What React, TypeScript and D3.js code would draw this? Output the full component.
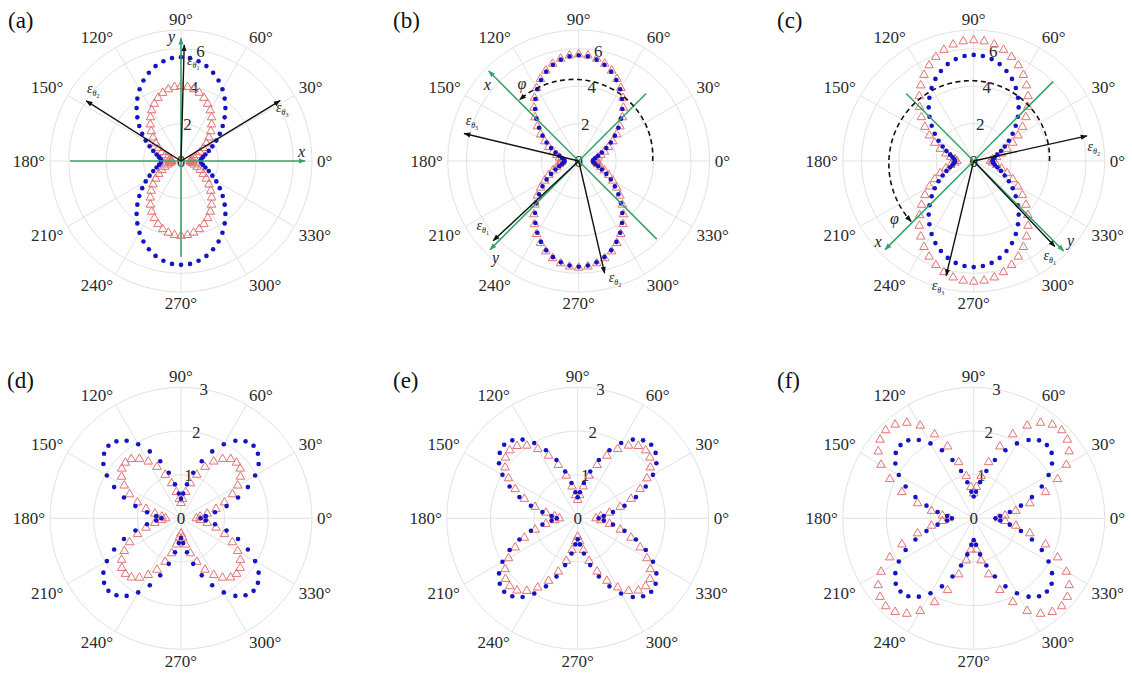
import React from "react";
import * as d3 from "d3";

// sampling angles (deg); strain is pi-periodic so each value is drawn at theta and theta+180
const thetaDeg = [0, 5, 10, 15, 20, 25, 30, 35, 40, 45, 50, 55, 60, 65, 70, 75, 80, 85,
  90, 95, 100, 105, 110, 115, 120, 125, 130, 135, 140, 145, 150, 155, 160, 165, 170, 175];

// (a)
const blueA = [1.05, 1.08, 1.19, 1.35, 1.58, 1.85, 2.18, 2.53, 2.91, 3.30, 3.69, 4.07, 4.43, 4.75, 5.02, 5.25, 5.41, 5.52,
  5.55, 5.52, 5.41, 5.25, 5.02, 4.75, 4.43, 4.07, 3.69, 3.30, 2.91, 2.53, 2.18, 1.85, 1.58, 1.35, 1.19, 1.08];
const redA = [0.50, 0.53, 0.61, 0.73, 0.91, 1.13, 1.38, 1.65, 1.95, 2.25, 2.55, 2.85, 3.13, 3.37, 3.59, 3.77, 3.89, 3.97,
  4.00, 3.97, 3.89, 3.77, 3.59, 3.37, 3.13, 2.85, 2.55, 2.25, 1.95, 1.65, 1.38, 1.13, 0.91, 0.73, 0.61, 0.53];
// (b)
const blueB = [0.75, 0.79, 0.90, 1.08, 1.32, 1.63, 1.98, 2.36, 2.77, 3.20, 3.63, 4.04, 4.43, 4.77, 5.08, 5.32, 5.50, 5.61,
  5.65, 5.61, 5.50, 5.32, 5.08, 4.77, 4.43, 4.04, 3.63, 3.20, 2.77, 2.36, 1.98, 1.63, 1.32, 1.08, 0.90, 0.79];
const redB = [0.90, 0.94, 1.04, 1.22, 1.46, 1.76, 2.10, 2.48, 2.88, 3.30, 3.72, 4.12, 4.50, 4.84, 5.14, 5.38, 5.55, 5.66,
  5.70, 5.66, 5.55, 5.38, 5.14, 4.84, 4.50, 4.12, 3.72, 3.30, 2.88, 2.48, 2.10, 1.76, 1.46, 1.22, 1.04, 0.94];
// (c)
const blueC = [1.00, 1.04, 1.14, 1.31, 1.55, 1.83, 2.17, 2.54, 2.93, 3.34, 3.74, 4.13, 4.50, 4.84, 5.12, 5.36, 5.53, 5.63,
  5.67, 5.63, 5.53, 5.36, 5.12, 4.84, 4.50, 4.13, 3.74, 3.34, 2.93, 2.54, 2.17, 1.83, 1.55, 1.31, 1.14, 1.04];
const redC = [0.90, 1.01, 1.24, 1.54, 1.90, 2.30, 2.73, 3.18, 3.64, 4.09, 4.52, 4.93, 5.31, 5.64, 5.92, 6.15, 6.32, 6.42,
  6.45, 6.42, 6.32, 6.15, 5.92, 5.64, 5.31, 4.93, 4.52, 4.09, 3.64, 3.18, 2.73, 2.30, 1.90, 1.54, 1.24, 1.01];
// (d)
const blueD = [0.45, 0.57, 0.79, 1.08, 1.39, 1.69, 1.96, 2.17, 2.30, 2.35, 2.30, 2.17, 1.96, 1.69, 1.39, 1.08, 0.79, 0.57,
  0.45, 0.57, 0.79, 1.08, 1.39, 1.69, 1.96, 2.17, 2.30, 2.35, 2.30, 2.17, 1.96, 1.69, 1.39, 1.08, 0.79, 0.57];
const redD = [0.35, 0.44, 0.61, 0.83, 1.06, 1.30, 1.50, 1.66, 1.77, 1.80, 1.77, 1.66, 1.50, 1.30, 1.06, 0.83, 0.61, 0.44,
  0.35, 0.44, 0.61, 0.83, 1.06, 1.30, 1.50, 1.66, 1.77, 1.80, 1.77, 1.66, 1.50, 1.30, 1.06, 0.83, 0.61, 0.44];
// (e)
const blueE = [0.48, 0.60, 0.82, 1.11, 1.42, 1.72, 1.99, 2.20, 2.33, 2.38, 2.33, 2.20, 1.99, 1.72, 1.42, 1.11, 0.82, 0.60,
  0.48, 0.60, 0.82, 1.11, 1.42, 1.72, 1.99, 2.20, 2.33, 2.38, 2.33, 2.20, 1.99, 1.72, 1.42, 1.11, 0.82, 0.60];
const redE = [0.42, 0.53, 0.74, 1.01, 1.30, 1.58, 1.83, 2.03, 2.16, 2.20, 2.16, 2.03, 1.83, 1.58, 1.30, 1.01, 0.74, 0.53,
  0.42, 0.53, 0.74, 1.01, 1.30, 1.58, 1.83, 2.03, 2.16, 2.20, 2.16, 2.03, 1.83, 1.58, 1.30, 1.01, 0.74, 0.53];
// (f)
const blueF = [0.50, 0.61, 0.84, 1.12, 1.42, 1.72, 1.98, 2.19, 2.33, 2.37, 2.33, 2.19, 1.98, 1.72, 1.42, 1.12, 0.84, 0.61,
  0.50, 0.61, 0.84, 1.12, 1.42, 1.72, 1.98, 2.19, 2.33, 2.37, 2.33, 2.19, 1.98, 1.72, 1.42, 1.12, 0.84, 0.61];
const redF = [0.57, 0.72, 0.98, 1.33, 1.75, 2.12, 2.45, 2.67, 2.80, 2.85, 2.80, 2.67, 2.45, 2.12, 1.75, 1.33, 0.98, 0.72,
  0.57, 0.72, 0.98, 1.33, 1.75, 2.12, 2.45, 2.67, 2.80, 2.85, 2.80, 2.67, 2.45, 2.12, 1.75, 1.33, 0.98, 0.72];

const panelNames = ["(a)", "(b)", "(c)", "(d)", "(e)", "(f)"];
const thetaTicks = [0, 30, 60, 90, 120, 150, 180, 210, 240, 270, 300, 330];
const rTicksTop = [0, 2, 4, 6];
const rTicksBottom = [0, 1, 2, 3];
const rMaxTop = 7;
const rMaxBottom = 3;

// specimen axes (green): angle, length in r units; first and third ray carry the arrow head
const axisAngA = [0, 180, 90, 270];
const axisLenA = [6.63, 5.93, 6.56, 5.12];
const axisAngB = [135, 315, 225, 45];
const axisLenB = [6.8, 5.9, 6.7, 5.1];
const axisAngC = [225, 45, 315, 135];
const axisLenC = [6.7, 6.0, 6.8, 5.1];
const axisHead = [true, false, true, false];
const axisNames = ["x", "y"];
const axisLblAngA = [4, 94.4];
const axisLblRA = [6.46, 6.62];
const axisLblAngB = [140.2, 229.4];
const axisLblRB = [6.35, 6.83];
const axisLblAngC = [220.2, 320.4];
const axisLblRC = [6.7, 6.71];

// gauge directions (black arrows) eps_theta1..3
const gaugeNames = ["1", "2", "3"];
const gaugeAngA = [88.4, 147.6, 31.3];
const gaugeLenA = [6.2, 6.0, 6.2];
const gaugeLblAngA = [83.6, 141.8, 27];
const gaugeLblRA = [5.27, 6.05, 6.0];
const gaugeAngB = [223, 283, 166.5];
const gaugeLenB = [6.25, 6.15, 6.3];
const gaugeLblAngB = [214.4, 286.4, 160.4];
const gaugeLblRB = [6.29, 6.63, 6.13];
const gaugeAngC = [313.5, 12.5, 256.5];
const gaugeLenC = [6.3, 6.2, 6.3];
const gaugeLblAngC = [307.6, 5.8, 253.8];
const gaugeLblRC = [6.55, 6.38, 7.07];

// rotation angle phi (dashed arc): start, end, radius at start, radius at end
const phiArcB = [0, 134, 3.95, 4.55];
const phiArcC = [0, 224, 4.05, 4.65];
const phiLblB = [126.4, 5.11];
const phiLblC = [216.2, 5.25];

const W = 1132;
const H = 673;
const R = 131;
const centerX = [181, 578.7, 973.7, 181, 577.7, 973.7];
const centerY = [161, 161, 161, 518.3, 518.3, 518.3];
const nameX = [8, 393, 777, 7, 393, 777];
const nameY = [28, 28, 28, 388, 388, 388];

const tf = { fontFamily: "'Liberation Serif', 'Times New Roman', Times" };
const green = "#35a56a";
const gridCol = "#e2e2e2";
const labelCol = "#2a2a2a";

const blueSeries = [blueA, blueB, blueC, blueD, blueE, blueF];
const redSeries = [redA, redB, redC, redD, redE, redF];
const axAngs = [axisAngA, axisAngB, axisAngC];
const axLens = [axisLenA, axisLenB, axisLenC];
const axLblAngs = [axisLblAngA, axisLblAngB, axisLblAngC];
const axLblRs = [axisLblRA, axisLblRB, axisLblRC];
const gAngs = [gaugeAngA, gaugeAngB, gaugeAngC];
const gLens = [gaugeLenA, gaugeLenB, gaugeLenC];
const gLblAngs = [gaugeLblAngA, gaugeLblAngB, gaugeLblAngC];
const gLblRs = [gaugeLblRA, gaugeLblRB, gaugeLblRC];

const tri = d3.symbol().type(d3.symbolTriangle).size(32)() as string;

const Panel = ({ i }: { i: number }) => {
  const top = i < 3;
  const rMax = top ? rMaxTop : rMaxBottom;
  const ticks = top ? rTicksTop : rTicksBottom;
  const r = d3.scaleLinear().domain([0, rMax]).range([0, R]);
  const xy = (deg: number, v: number): [number, number] => {
    const a = (deg * Math.PI) / 180;
    return [r(v) * Math.cos(a), -r(v) * Math.sin(a)];
  };
  const rings = ticks.filter((t) => t > 0);
  if (!rings.includes(rMax)) rings.push(rMax);
  const pts = (vals: number[]) =>
    vals.flatMap((v, k) => [xy(thetaDeg[k], v), xy(thetaDeg[k] + 180, v)]);

  let phi: React.ReactNode = null;
  if (i === 1 || i === 2) {
    const [a0, a1, r0, r1] = i === 1 ? phiArcB : phiArcC;
    const steps = d3.range(a0, a1 + 0.01, 2);
    const path = d3.line()(steps.map((a) => xy(a, r0 + ((r1 - r0) * (a - a0)) / (a1 - a0)))) as string;
    const [la, lr] = i === 1 ? phiLblB : phiLblC;
    const [px, py] = xy(la, lr);
    phi = (
      <g>
        <path d={path} fill="none" stroke="#111" strokeWidth={1.6} strokeDasharray="5,3.5" markerEnd="url(#ah-black)" />
        <text x={px} y={py} dy="0.3em" textAnchor="middle" fontStyle="italic" fontSize={16} fill="#222" style={tf}>{"\u03C6"}</text>
      </g>
    );
  }

  return (
    <g>
      <text x={nameX[i]} y={nameY[i]} fontSize={23} fill="#111" style={tf}>{panelNames[i]}</text>
      <g transform={`translate(${centerX[i]},${centerY[i]})`}>
        {rings.map((t) => (
          <circle key={`c${t}`} r={r(t)} fill="none" stroke={gridCol} strokeWidth={1} />
        ))}
        {thetaTicks.map((t) => {
          const [x, y] = xy(t, rMax);
          return <line key={`s${t}`} x1={0} y1={0} x2={x} y2={y} stroke={gridCol} strokeWidth={1} />;
        })}
        {thetaTicks.map((t) => {
          const a = (t * Math.PI) / 180;
          const d = R + 5;
          const c = Math.cos(a), s = Math.sin(a);
          return (
            <text key={`t${t}`} x={d * c} y={-d * s}
              textAnchor={c > 0.1 ? "start" : c < -0.1 ? "end" : "middle"}
              dy={s > 0.1 ? "0em" : s < -0.1 ? "0.72em" : "0.36em"}
              fontSize={17} fill={labelCol} style={tf}>{`${t}\u00B0`}</text>
          );
        })}
        {ticks.map((t) => {
          const [x, y] = t === 0 ? [0, 0] : xy(80, t);
          return (
            <text key={`r${t}`} x={x} y={y} dy="0.36em" textAnchor="middle" fontSize={17} fill={labelCol} style={tf}>{t}</text>
          );
        })}
        {pts(redSeries[i]).map(([x, y], k) => (
          <path key={`tr${k}`} d={tri} transform={`translate(${x},${y})`} fill="none" stroke="#e27373" strokeWidth={1} />
        ))}
        {pts(blueSeries[i]).map(([x, y], k) => (
          <circle key={`bd${k}`} cx={x} cy={y} r={2.3} fill="#1414c4" />
        ))}
        {top && axAngs[i].map((a, k) => {
          const [x, y] = xy(a, axLens[i][k]);
          return (
            <line key={`ax${k}`} x1={0} y1={0} x2={x} y2={y} stroke={green} strokeWidth={1.6}
              markerEnd={axisHead[k] ? "url(#ah-green)" : undefined} />
          );
        })}
        {top && axisNames.map((n, k) => {
          const [x, y] = xy(axLblAngs[i][k], axLblRs[i][k]);
          return (
            <text key={`an${k}`} x={x} y={y} dy="0.3em" textAnchor="middle" fontStyle="italic" fontSize={16} fill="#222" style={tf}>{n}</text>
          );
        })}
        {phi}
        {top && gAngs[i].map((a, k) => {
          const [x, y] = xy(a, gLens[i][k]);
          const [lx, ly] = xy(gLblAngs[i][k], gLblRs[i][k]);
          return (
            <g key={`g${k}`}>
              <line x1={0} y1={0} x2={x} y2={y} stroke="#111" strokeWidth={1.4} markerEnd="url(#ah-black)" />
              <text x={lx - 5} y={ly + 2} fill="#222" style={tf}>
                <tspan fontStyle="italic" fontSize={14} style={tf}>{"\u03B5"}</tspan>
                <tspan fontStyle="italic" fontSize={8} dy={3} style={tf}>{"\u03B8"}</tspan>
                <tspan fontSize={6} dy={2} style={tf}>{gaugeNames[k]}</tspan>
              </text>
            </g>
          );
        })}
      </g>
    </g>
  );
};

const App = () => (
  <svg width={W} height={H}
    style={{ position: "absolute", left: 0, top: 0, background: "#fff", display: "block" }}>
    <defs>
      <marker id="ah-black" viewBox="0 0 10 10" refX={9} refY={5} markerWidth={7} markerHeight={7}
        markerUnits="userSpaceOnUse" orient="auto">
        <path d="M0,1.3L10,5L0,8.7Z" fill="#111" />
      </marker>
      <marker id="ah-green" viewBox="0 0 10 10" refX={9} refY={5} markerWidth={7} markerHeight={7}
        markerUnits="userSpaceOnUse" orient="auto">
        <path d="M0,1.3L10,5L0,8.7Z" fill={green} />
      </marker>
    </defs>
    {panelNames.map((n, i) => <Panel key={n} i={i} />)}
  </svg>
);

export default App;
